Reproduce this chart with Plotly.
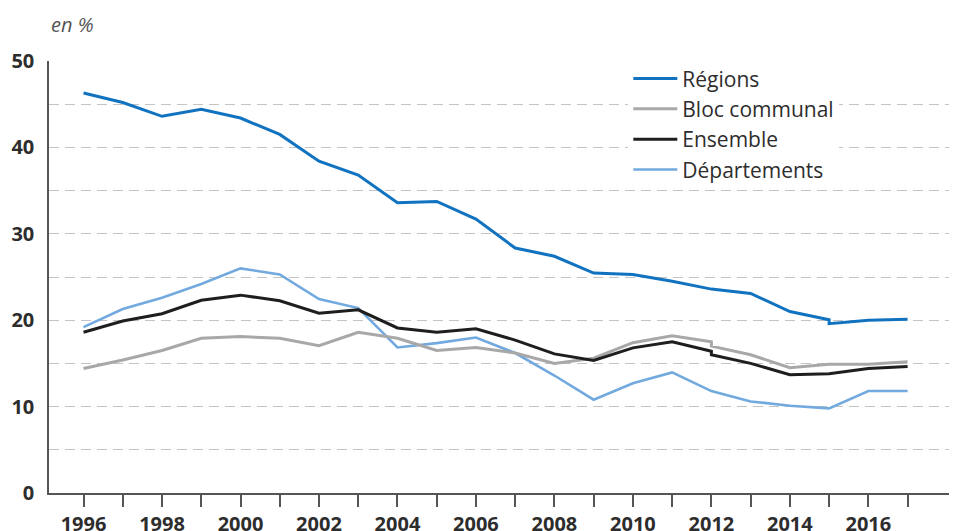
import plotly.graph_objects as go

years = list(range(1996, 2018))
year_labels = [str(y) if y % 2 == 0 else "" for y in years]

# Régions: old series 1996-2015, new series 2015-2017 (break in 2015)
regions_old = [46.3, 45.2, 43.6, 44.4, 43.4, 41.5, 38.4, 36.8, 33.6, 33.75,
               31.7, 28.35, 27.4, 25.45, 25.3, 24.5, 23.6, 23.1, 21.0, 20.05]
regions_new = [19.6, 20.0, 20.1]

# Bloc communal: old series 1996-2012, new series 2012-2017
bloc_old = [14.4, 15.4, 16.5, 17.9, 18.1, 17.9, 17.05, 18.6, 17.9, 16.5,
            16.85, 16.2, 15.0, 15.6, 17.4, 18.2, 17.5]
bloc_new = [17.0, 16.0, 14.5, 14.9, 14.9, 15.2]

# Ensemble: old series 1996-2012, new series 2012-2017
ensemble_old = [18.6, 19.9, 20.75, 22.3, 22.9, 22.25, 20.8, 21.2, 19.1, 18.6,
                19.0, 17.7, 16.1, 15.35, 16.8, 17.5, 16.4]
ensemble_new = [16.0, 15.0, 13.7, 13.8, 14.4, 14.65]

departements = [19.2, 21.3, 22.6, 24.2, 26.0, 25.3, 22.45, 21.4, 16.85, 17.35,
                18.0, 16.2, 13.6, 10.8, 12.7, 13.96, 11.8, 10.6, 10.1, 9.8,
                11.8, 11.8]

names = ["Régions", "Bloc communal", "Ensemble", "Départements"]
colors = ["#1173c0", "#a8a8a8", "#1e1e1e", "#72a9de"]


def joined(old, new):
    xs = years[:len(old)] + years[len(old) - 1:len(old) - 1 + len(new)]
    return xs, old + new


fig = go.Figure()

x_dep, y_dep = years, departements
x_bloc, y_bloc = joined(bloc_old, bloc_new)
x_ens, y_ens = joined(ensemble_old, ensemble_new)
x_reg, y_reg = joined(regions_old, regions_new)

fig.add_trace(go.Scatter(x=x_dep, y=y_dep, mode="lines", name=names[3],
                         line=dict(color=colors[3], width=2.6), legendrank=4))
fig.add_trace(go.Scatter(x=x_bloc, y=y_bloc, mode="lines", name=names[1],
                         line=dict(color=colors[1], width=3), legendrank=2))
fig.add_trace(go.Scatter(x=x_ens, y=y_ens, mode="lines", name=names[2],
                         line=dict(color=colors[2], width=3), legendrank=3))
fig.add_trace(go.Scatter(x=x_reg, y=y_reg, mode="lines", name=names[0],
                         line=dict(color=colors[0], width=3), legendrank=1))

grid_style = dict(showgrid=True, gridcolor="#c4c4c4", gridwidth=1.4,
                  griddash="10px,6px")

fig.update_layout(
    width=957, height=531,
    margin=dict(l=41, r=6, t=53, b=46, autoexpand=False),
    paper_bgcolor="white", plot_bgcolor="white",
    font=dict(family="Open Sans", color="#2d2d2d"),
    xaxis=dict(
        range=[1995.12, 2018.31], automargin=False,
        tickmode="array", tickvals=years, ticktext=year_labels,
        ticks="outside", ticklen=12, tickwidth=1.5, tickcolor="#555555",
        showline=True, linecolor="#555555", linewidth=1.5,
        showgrid=False, zeroline=False,
        tickfont=dict(family="Open Sans", size=20, color="#2d2d2d", weight="bold"),
    ),
    yaxis=dict(
        range=[0, 50], tickmode="linear", tick0=0, dtick=10, automargin=False,
        showline=True, linecolor="#555555", linewidth=1.5,
        zeroline=False, ticks="", ticklabelstandoff=9,
        tickfont=dict(family="Open Sans", size=20, color="#2d2d2d", weight="bold"),
        minor=dict(dtick=5, **grid_style),
        **grid_style,
    ),
    legend=dict(
        x=0.6366, xanchor="left", y=1.006, yanchor="top",
        bgcolor="white", itemwidth=44, tracegroupgap=0,
        font=dict(family="Open Sans", size=21, color="#2d2d2d"),
    ),
    annotations=[dict(
        text="en %", xref="paper", yref="paper", x=0.0, y=1.084,
        xanchor="left", yanchor="middle", showarrow=False,
        font=dict(family="Open Sans", size=20, color="#555555", style="italic"),
    )],
)

fig.write_html("out.html")
